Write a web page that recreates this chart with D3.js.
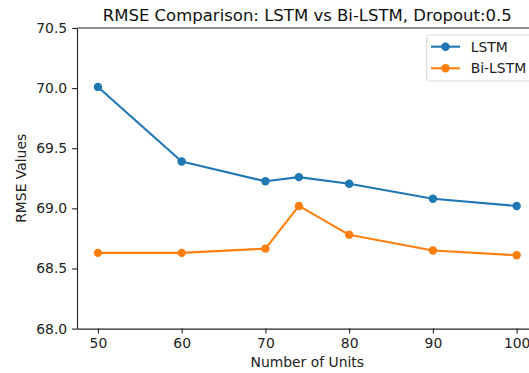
<!DOCTYPE html>
<html>
<head>
<meta charset="utf-8">
<script src="https://cdnjs.cloudflare.com/ajax/libs/d3/7.8.5/d3.min.js"></script>
<style>
  body { margin: 0; background: #fff; }
  svg { display: block; font-family: "DejaVu Sans", sans-serif; }
</style>
</head>
<body>
<div class="chart"></div>
<script>
var units = [50, 60, 70, 74, 80, 90, 100];
var lstm = [70.01, 69.39, 69.225, 69.26, 69.205, 69.08, 69.02];
var biLstm = [68.63, 68.63, 68.665, 69.02, 68.78, 68.65, 68.61];
var xTicks = [50, 60, 70, 80, 90, 100];
var yTicks = [68.0, 68.5, 69.0, 69.5, 70.0, 70.5];
var seriesNames = ["LSTM", "Bi-LSTM"];
var seriesColors = ["#1f77b4", "#ff7f0e"];

var W = 529, H = 373;
var margin = {top: 28, left: 77, bottom: 44.4};
var plotRight = 537.6;

var x = d3.scaleLinear().domain([47.5, 102.5]).range([margin.left, plotRight]);
var y = d3.scaleLinear().domain([68, 70.5]).range([H - margin.bottom, margin.top]);

var svg = d3.select(".chart")
    .append("svg")
    .attr("width", W)
    .attr("height", H);

// lines + markers
var all = [lstm, biLstm];
all.forEach(function(vals, i) {
    var pts = units.map(function(u, j) { return {u: u, v: vals[j]}; });
    var line = d3.line()
        .x(function(d) { return x(d.u); })
        .y(function(d) { return y(d.v); });
    svg.append("path")
        .datum(pts)
        .attr("d", line)
        .attr("fill", "none")
        .attr("stroke", seriesColors[i])
        .attr("stroke-width", 2.1)
        .attr("stroke-linejoin", "round");
    svg.selectAll(".dot" + i)
        .data(pts)
        .enter()
        .append("circle")
        .attr("class", "dot" + i)
        .attr("cx", function(d) { return x(d.u); })
        .attr("cy", function(d) { return y(d.v); })
        .attr("r", 4.2)
        .attr("fill", seriesColors[i]);
});

// axes
var xAxis = d3.axisBottom(x).tickValues(xTicks).tickSize(4.9).tickPadding(4.9).tickSizeOuter(0)
    .tickFormat(d3.format("d"));
var yAxis = d3.axisLeft(y).tickValues(yTicks).tickSize(4.9).tickPadding(4.9).tickSizeOuter(0)
    .tickFormat(d3.format(".1f"));

var gx = svg.append("g")
    .attr("transform", "translate(0," + (H - margin.bottom) + ")")
    .call(xAxis);
var gy = svg.append("g")
    .attr("transform", "translate(" + margin.left + ",0)")
    .call(yAxis);
[gx, gy].forEach(function(g) {
    g.selectAll("text").attr("font-size", 13.9).attr("font-family", "DejaVu Sans").attr("fill", "#222");
    g.selectAll("line").attr("stroke", "#222").attr("stroke-width", 1.1);
    g.select(".domain").attr("stroke", "#222").attr("stroke-width", 1.1);
});

// top spine
svg.append("line")
    .attr("x1", margin.left).attr("x2", plotRight)
    .attr("y1", margin.top).attr("y2", margin.top)
    .attr("stroke", "#222").attr("stroke-width", 1.1);

// title and labels
svg.append("text")
    .attr("x", (margin.left + plotRight) / 2)
    .attr("y", 21)
    .attr("text-anchor", "middle")
    .attr("font-size", 16.5)
    .attr("fill", "#111")
    .text("RMSE Comparison: LSTM vs Bi-LSTM, Dropout:0.5");

svg.append("text")
    .attr("x", (margin.left + plotRight) / 2)
    .attr("y", 367)
    .attr("text-anchor", "middle")
    .attr("font-size", 13.9)
    .attr("fill", "#222")
    .text("Number of Units");

svg.append("text")
    .attr("transform", "translate(26," + ((margin.top + H - margin.bottom) / 2) + ") rotate(-90)")
    .attr("text-anchor", "middle")
    .attr("font-size", 13.9)
    .attr("fill", "#222")
    .text("RMSE Values");

// legend
var leg = svg.append("g");
leg.append("rect")
    .attr("x", 426.7).attr("y", 35)
    .attr("width", 110).attr("height", 46)
    .attr("rx", 3)
    .attr("fill", "#fff").attr("fill-opacity", 0.8)
    .attr("stroke", "#d6d6d6").attr("stroke-width", 1);
var rows = [46.7, 68.3];
seriesNames.forEach(function(name, i) {
    leg.append("line")
        .attr("x1", 431).attr("x2", 460)
        .attr("y1", rows[i]).attr("y2", rows[i])
        .attr("stroke", seriesColors[i]).attr("stroke-width", 2.1);
    leg.append("circle")
        .attr("cx", 445.5).attr("cy", rows[i]).attr("r", 4.2)
        .attr("fill", seriesColors[i]);
    leg.append("text")
        .attr("x", 470.7).attr("y", rows[i])
        .attr("dy", "0.36em")
        .attr("font-size", 13.9)
        .attr("fill", "#222")
        .text(name);
});
</script>
</body>
</html>
